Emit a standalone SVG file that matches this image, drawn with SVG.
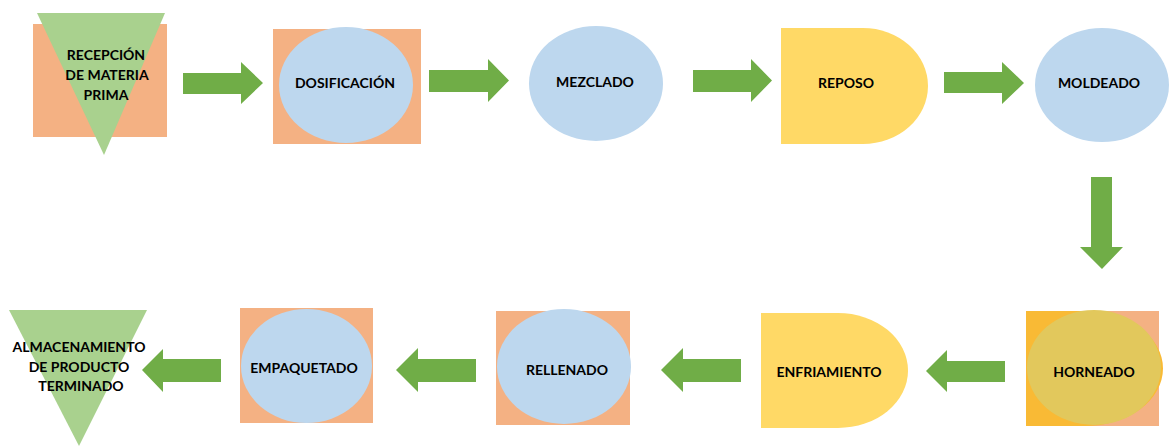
<svg xmlns="http://www.w3.org/2000/svg" width="1170" height="446" viewBox="0 0 1170 446">
<style>
.sq{fill:#F4B183}
.el{fill:#BDD7EE}
.tri{fill:#A9D18E}
.dl{fill:#FFD966}
.ar{fill:#70AD47}
text{font-family:Lato,"Open Sans","Liberation Sans",sans-serif;font-weight:bold;font-size:14px;fill:#000;text-anchor:middle}
</style>
<rect width="1170" height="446" fill="#fff"/>
<g id="recepcion">
<rect class="sq" x="33" y="24" width="134" height="113"/>
<polygon class="tri" points="37,13 165,13 104,155"/>
<text x="106" y="60">RECEPCIÓN</text>
<text x="107" y="80">DE MATERIA</text>
<text x="106" y="100">PRIMA</text>
</g>
<g id="dosificacion">
<rect class="sq" x="273" y="29" width="148" height="115"/>
<ellipse class="el" cx="346" cy="85" rx="67" ry="58"/>
<text x="345" y="88">DOSIFICACIÓN</text>
</g>
<g id="mezclado">
<ellipse class="el" cx="596" cy="83.5" rx="67" ry="57.5"/>
<text x="595" y="87">MEZCLADO</text>
</g>
<g id="reposo">
<path class="dl" d="M781,28 H863 A65,58 0 0 1 863,144 H781 Z"/>
<text x="846" y="88">REPOSO</text>
</g>
<g id="moldeado">
<ellipse class="el" cx="1102" cy="85" rx="67" ry="57"/>
<text x="1099" y="88">MOLDEADO</text>
</g>
<g id="horneado">
<rect class="sq" x="1026" y="311" width="133" height="115"/>
<path fill="#F9BA35" d="M1026,311 H1085 A78,57.5 0 0 1 1085,426 H1026 Z"/>
<ellipse fill="#E2C85C" cx="1094" cy="367.5" rx="67" ry="57.5"/>
<text x="1094" y="377">HORNEADO</text>
</g>
<g id="enfriamiento">
<path class="dl" d="M761,313 H838 A70,57.5 0 0 1 838,428 H761 Z"/>
<text x="829" y="377">ENFRIAMIENTO</text>
</g>
<g id="rellenado">
<rect class="sq" x="496" y="311" width="134" height="114"/>
<ellipse class="el" cx="564" cy="366.5" rx="67" ry="57.5"/>
<text x="567" y="375">RELLENADO</text>
</g>
<g id="empaquetado">
<rect class="sq" x="240" y="308" width="133" height="115"/>
<ellipse class="el" cx="306.5" cy="366" rx="65.5" ry="57"/>
<text x="304" y="373">EMPAQUETADO</text>
</g>
<g id="almacenamiento">
<polygon class="tri" points="9,310 147,310 79,446"/>
<text x="79" y="352">ALMACENAMIENTO</text>
<text x="79" y="372">DE PRODUCTO</text>
<text x="81" y="391">TERMINADO</text>
</g>
<g id="connectors">
<polygon class="ar" points="183,73 241,73 241,62 263,83 241,104 241,94 183,94"/>
<polygon class="ar" points="429,70 488,70 488,59 509,80.5 488,102 488,92 429,92"/>
<polygon class="ar" points="693,70 751,70 751,59 772,80.5 751,102 751,92 693,92"/>
<polygon class="ar" points="944,72 1002,72 1002,62 1024,83 1002,104 1002,93 944,93"/>
<polygon class="ar" points="1091,177 1112,177 1112,247 1123,247 1102,269 1080,247 1091,247"/>
<polygon class="ar" points="1005,361 947,361 947,350 926,371 947,392 947,382 1005,382"/>
<polygon class="ar" points="741,359 683,359 683,348 661,370 683,392 683,382 741,382"/>
<polygon class="ar" points="476,359 418,359 418,348 396,370 418,392 418,382 476,382"/>
<polygon class="ar" points="221,359 163,359 163,349 142,370 163,392 163,382 221,382"/>
</g>
</svg>
